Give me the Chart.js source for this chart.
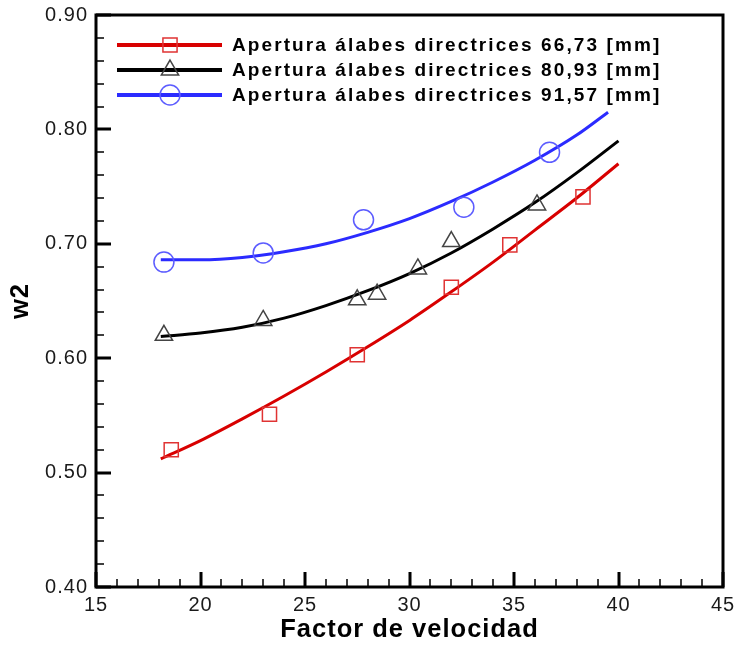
<!DOCTYPE html>
<html>
  <head>
    <meta charset="utf-8" />
    <title>w2 - Factor de velocidad</title>
    <script src="https://cdn.jsdelivr.net/npm/chart.js"></script>
    <style>
      html, body { margin: 0; padding: 0; background: #fff; }
      #wrap { width: 740px; height: 648px; }
    </style>
  </head>
  <body>
    <div id="wrap">
      <canvas id="w2Chart" width="740" height="648"></canvas>
    </div>
    <script>
      // series names (legend)
      const seriesNames = [
        'Apertura álabes directrices 66,73 [mm]',
        'Apertura álabes directrices 80,93 [mm]',
        'Apertura álabes directrices 91,57 [mm]'
      ];

      // measured points
      const redPtsX   = [18.6, 23.3, 27.5, 32.0, 34.8, 38.3];
      const redPtsY   = [0.520, 0.551, 0.603, 0.662, 0.699, 0.741];
      const blackPtsX = [18.25, 23.0, 27.5, 28.45, 30.4, 32.0, 36.1];
      const blackPtsY = [0.620, 0.633, 0.651, 0.656, 0.678, 0.702, 0.734];
      const bluePtsX  = [18.25, 23.0, 27.8, 32.6, 36.7];
      const bluePtsY  = [0.684, 0.692, 0.721, 0.732, 0.780];

      // fitted curves
      const curveX      = [18.1, 20, 22, 24, 26, 28, 30, 32, 34, 36, 38, 40];
      const redCurveY   = [0.512, 0.528, 0.547, 0.567, 0.588, 0.610, 0.633, 0.658, 0.684, 0.712, 0.740, 0.770];
      const blackCurveY = [0.619, 0.622, 0.627, 0.635, 0.646, 0.659, 0.674, 0.692, 0.713, 0.736, 0.762, 0.790];
      const blueCurveX  = [18.1, 20, 22, 24, 26, 28, 30, 32, 34, 36, 38, 39.5];
      const blueCurveY  = [0.686, 0.686, 0.688, 0.693, 0.700, 0.710, 0.722, 0.737, 0.754, 0.773, 0.795, 0.815];

      // axes
      const xTicks = [15, 20, 25, 30, 35, 40, 45];
      const yTicks = [0.40, 0.50, 0.60, 0.70, 0.80, 0.90];

      const RED = '#d80000', BLACK = '#000000', BLUE = '#2b2bff';
      const RED_M = '#e03333', BLACK_M = '#444444', BLUE_M = '#5c5cff';

      const pts = (xs, ys) => xs.map((x, i) => ({ x: x, y: ys[i] }));

      function markerSet(label, xs, ys, style, color) {
        return {
          label: label, data: pts(xs, ys), showLine: false,
          pointStyle: style, pointRadius: 10, pointHoverRadius: 10,
          pointBorderColor: color, pointBackgroundColor: 'rgba(0,0,0,0)',
          pointBorderWidth: 1.5
        };
      }
      function curveSet(label, xs, ys, color) {
        return {
          label: label, data: pts(xs, ys), showLine: true, borderColor: color, borderWidth: 3,
          pointRadius: 0, pointHoverRadius: 0, fill: false, cubicInterpolationMode: 'monotone'
        };
      }

      const spacing = (ctx, v) => { if ('letterSpacing' in ctx) ctx.letterSpacing = v; };

      // frame + inward ticks (Tecplot look)
      const framePlugin = {
        id: 'frame',
        beforeLayout(chart) { spacing(chart.ctx, '1px'); },
        beforeDraw(chart) { spacing(chart.ctx, '1px'); },
        afterDatasetsDraw(chart) {
          const { ctx, chartArea: a, scales } = chart;
          const xs = scales.x, ys = scales.y;
          ctx.save();
          ctx.strokeStyle = '#000';
          ctx.lineCap = 'butt';
          // minor ticks
          ctx.lineWidth = 1.5;
          ctx.beginPath();
          for (let v = 15; v <= 45.001; v += 1) {
            const px = Math.round(xs.getPixelForValue(v));
            ctx.moveTo(px, a.bottom); ctx.lineTo(px, a.bottom - 8);
          }
          for (let v = 0.40; v <= 0.9001; v += 0.02) {
            const py = Math.round(ys.getPixelForValue(v));
            ctx.moveTo(a.left, py); ctx.lineTo(a.left + 8, py);
          }
          ctx.stroke();
          // major ticks
          ctx.lineWidth = 3;
          ctx.beginPath();
          xTicks.forEach(v => {
            const px = Math.round(xs.getPixelForValue(v));
            ctx.moveTo(px, a.bottom); ctx.lineTo(px, a.bottom - 15);
          });
          yTicks.forEach(v => {
            const py = Math.round(ys.getPixelForValue(v));
            ctx.moveTo(a.left, py); ctx.lineTo(a.left + 15, py);
          });
          ctx.stroke();
          // frame
          ctx.lineWidth = 3;
          ctx.strokeRect(a.left, a.top, a.right - a.left, a.bottom - a.top);
          ctx.restore();
        },
        afterDraw(chart) {
          const ctx = chart.ctx;
          const rows = [
            { color: RED, mcolor: RED_M, style: 'rect' },
            { color: BLACK, mcolor: BLACK_M, style: 'triangle' },
            { color: BLUE, mcolor: BLUE_M, style: 'circle' }
          ];
          ctx.save();
          rows.forEach((r, i) => {
            const y = 45 + i * 25;
            ctx.strokeStyle = r.color;
            ctx.lineWidth = 4;
            ctx.beginPath(); ctx.moveTo(117, y); ctx.lineTo(222, y); ctx.stroke();
            ctx.strokeStyle = r.mcolor;
            ctx.fillStyle = 'rgba(255,255,255,0)';
            ctx.lineWidth = 1.5;
            Chart.helpers.drawPoint(ctx, { pointStyle: r.style, radius: 10, borderWidth: 1.5 }, 170, y);
            ctx.fillStyle = '#000';
            ctx.font = 'bold 19px "Liberation Sans", Arial, sans-serif';
            spacing(ctx, '2.1px');
            ctx.textAlign = 'left';
            ctx.textBaseline = 'middle';
            ctx.fillText(seriesNames[i], 232, y + 1);
          });
          ctx.restore();
        }
      };

      const tickFont = { family: '"Liberation Sans", Arial, sans-serif', size: 20 };
      const titleFont = { family: '"Liberation Sans", Arial, sans-serif', size: 25.5, weight: 'bold' };

      new Chart(document.getElementById('w2Chart').getContext('2d'), {
        type: 'scatter',
        data: {
          datasets: [
            markerSet(seriesNames[0], redPtsX, redPtsY, 'rect', RED_M),
            markerSet(seriesNames[1], blackPtsX, blackPtsY, 'triangle', BLACK_M),
            markerSet(seriesNames[2], bluePtsX, bluePtsY, 'circle', BLUE_M),
            curveSet(seriesNames[0], curveX, redCurveY, RED),
            curveSet(seriesNames[1], curveX, blackCurveY, BLACK),
            curveSet(seriesNames[2], blueCurveX, blueCurveY, BLUE)
          ]
        },
        options: {
          responsive: false,
          animation: false,
          layout: { padding: { top: 15, right: 17, left: 0, bottom: 0 } },
          plugins: { legend: { display: false }, tooltip: { enabled: false } },
          scales: {
            x: {
              type: 'linear', min: 15, max: 45,
              grid: { display: false, drawTicks: false },
              border: { display: false },
              afterBuildTicks: s => { s.ticks = xTicks.map(v => ({ value: v })); },
              afterFit: s => { s.height = 61; s.paddingLeft = 0; s.paddingRight = 0; },
              ticks: { font: tickFont, color: '#1a1a1a', padding: 6, maxRotation: 0, autoSkip: false },
              title: { display: true, text: 'Factor de velocidad', font: titleFont, color: '#000', padding: { top: 0, bottom: 3 } }
            },
            y: {
              type: 'linear', min: 0.4, max: 0.9,
              grid: { display: false, drawTicks: false },
              border: { display: false },
              afterBuildTicks: s => { s.ticks = yTicks.map(v => ({ value: v })); },
              afterFit: s => { s.width = 96; s.paddingTop = 0; s.paddingBottom = 0; },
              ticks: { font: tickFont, color: '#1a1a1a', padding: 8, autoSkip: false, callback: v => v.toFixed(2) },
              title: { display: true, text: 'w2', font: titleFont, color: '#000', padding: { top: 6, bottom: 0 } }
            }
          }
        },
        plugins: [framePlugin]
      });
    </script>
  </body>
</html>
